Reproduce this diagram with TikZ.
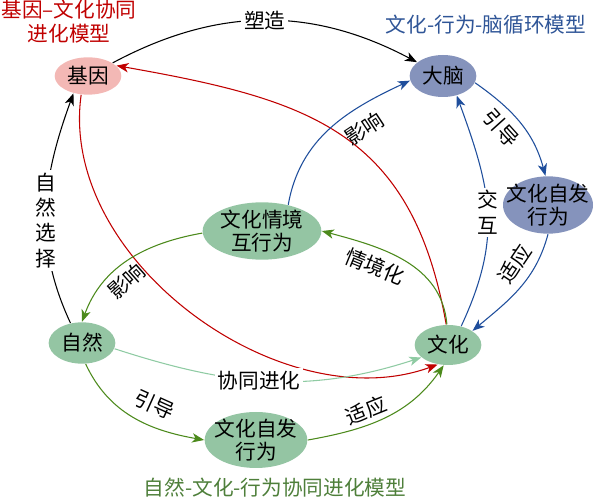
\documentclass[tikz,border=0pt]{standalone}
\usepackage{fontspec}
\setmainfont{Noto Sans CJK SC}
\usetikzlibrary{shapes.geometric,arrows.meta}

\definecolor{genepink}{HTML}{F3B8B5}
\definecolor{brainblue}{HTML}{8593BC}
\definecolor{natgreen}{HTML}{94C5A3}
\definecolor{redline}{HTML}{C00000}
\definecolor{blueline}{HTML}{1F4E9C}
\definecolor{greenline}{HTML}{4C8A1C}
\definecolor{paleline}{HTML}{8FCBA3}
\definecolor{greentitle}{HTML}{4E7F3A}
\definecolor{bluetitle}{HTML}{2F5597}

\newcommand{\zhsize}{\fontsize{15.5}{17.5}\selectfont}
\newcommand{\vlsize}{\fontsize{15.5}{19}\selectfont}

\begin{document}
\begin{tikzpicture}[->, >={Stealth[length=9pt,width=7pt,inset=2.5pt]}, x=0.75pt, y=0.75pt, line width=0.8pt,
    main node/.style={ellipse, inner sep=-20pt, align=center}]
            \tikzstyle{every node}=[font=\zhsize]
            \useasboundingbox (0,0) rectangle (600,-498);

              % titles
              \node[text=redline, align=center, font=\fontsize{15.5}{18}\selectfont] (t1) at (69,-22) {基因–文化协同\\进化模型};
              \node[text=bluetitle] (t2) at (486,-25) {文化-行为-脑循环模型};
              \node[text=greentitle] (t3) at (275,-488) {自然-文化-行为协同进化模型};

              \node[main node, fill=genepink, minimum width=50pt, minimum height=28pt] (1) at (88,-76) {基因};
              \node[main node, fill=brainblue, minimum width=50pt, minimum height=31.5pt] (2) at (443,-76) {大脑};
              \node[main node, fill=brainblue, minimum width=67.5pt, minimum height=43pt] (3) at (548,-205) {文化自发\\行为};
              \node[main node, fill=natgreen, minimum width=89pt, minimum height=43pt] (4) at (262,-231) {文化情境\\互行为};
              \node[main node, fill=natgreen, minimum width=50pt, minimum height=31pt] (5) at (82,-343) {自然};
              \node[main node, fill=natgreen, minimum width=50pt, minimum height=30pt] (6) at (448,-345) {文化};
              \node[main node, fill=natgreen, minimum width=77pt, minimum height=42pt] (7) at (256,-440) {文化自发\\行为};

              \path[every node/.style={font=\zhsize, text=black, inner sep=2pt}]
                (1) edge [bend left=28] node [fill=white] {塑造} (2)
                (5.120) edge [out=115, in=250] node [fill=white, align=center, pos=0.45, font=\vlsize] {自\\然\\选\\择} (1.230)
                (6.95) edge [redline, out=100, in=-10, looseness=1.2] (1.20)
                (1.250) edge [redline, out=262, in=200, looseness=0.95] (6.242)
                (4.45) edge [blueline, out=80, in=205] node [sloped, below, pos=0.66, inner sep=8pt] {影响} (2.188)
                (2.-12) edge [blueline, out=-35, in=105] node [sloped, below, pos=0.42, inner sep=6pt] {引导} (3.95)
                (6.55) edge [blueline, out=65, in=-70, looseness=1.1] node [fill=white, align=center, font=\vlsize] {交\\互} (2.-55)
                (3.270) edge [blueline, out=255, in=40] node [sloped, above, pos=0.35, inner sep=6pt] {适应} (6.30)
                (6.93) edge [greenline, out=95, in=-15] node [sloped, below, pos=0.65, inner sep=6pt] {情境化} (4.0)
                (4.182) edge [greenline, out=190, in=70] node [sloped, below, pos=0.6, inner sep=4pt] {影响} (5.90)
                (5.-10) edge [paleline, out=-18, in=198] node [fill=white, pos=0.47] {协同进化} (6.205)
                (5.-80) edge [greenline, out=-65, in=170] node [sloped, above, pos=0.6, inner sep=8pt] {引导} (7.180)
                (7.0) edge [greenline, out=10, in=235] node [sloped, above, pos=0.4, inner sep=3pt] {适应} (6.258);

            \end{tikzpicture}
\end{document}
